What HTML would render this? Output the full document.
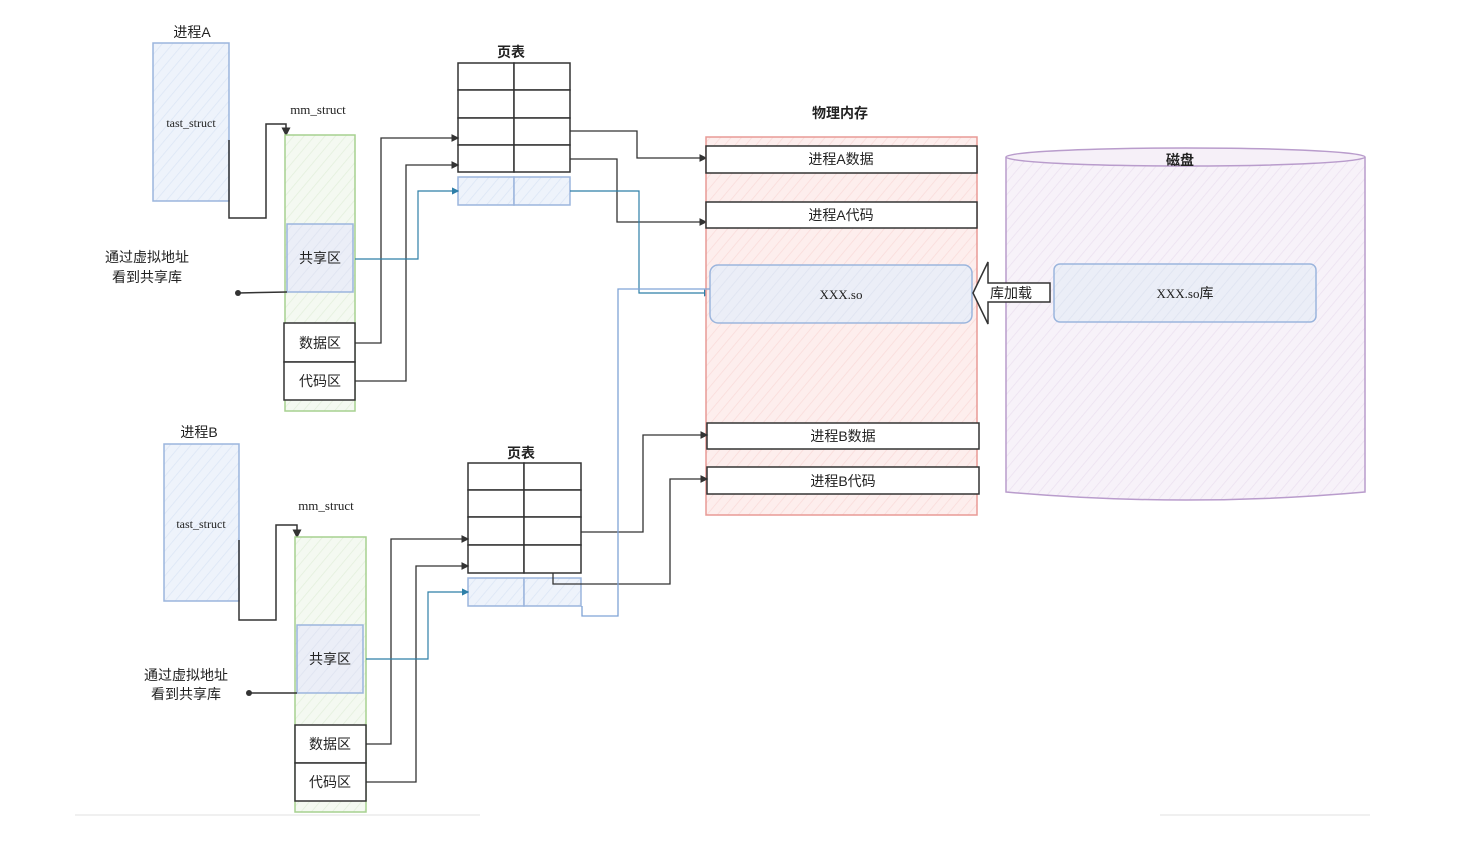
<!DOCTYPE html>
<html><head><meta charset="utf-8"><style>
html,body{margin:0;padding:0;background:#fff}
svg{display:block}
text{font-family:"Liberation Serif","Noto Sans CJK SC",serif;fill:#222}
.cj{font-family:"Liberation Sans","Noto Sans CJK SC",sans-serif}
.b{font-weight:bold}
</style></head><body>
<svg width="1477" height="866" viewBox="0 0 1477 866" xmlns="http://www.w3.org/2000/svg">
<defs>
<pattern id="hb" width="8" height="8" patternUnits="userSpaceOnUse" patternTransform="rotate(40)"><rect width="8" height="8" fill="#eef3fb"/><line x1="0" y1="0" x2="0" y2="8" stroke="#dbe5f5" stroke-width="1.5"/></pattern>
<pattern id="hg" width="8" height="8" patternUnits="userSpaceOnUse" patternTransform="rotate(40)"><rect width="8" height="8" fill="#f4f9f1"/><line x1="0" y1="0" x2="0" y2="8" stroke="#e2efdb" stroke-width="1.5"/></pattern>
<pattern id="hr" width="8" height="8" patternUnits="userSpaceOnUse" patternTransform="rotate(40)"><rect width="8" height="8" fill="#fdeeed"/><line x1="0" y1="0" x2="0" y2="8" stroke="#f9dbd9" stroke-width="1.5"/></pattern>
<pattern id="hp" width="8" height="8" patternUnits="userSpaceOnUse" patternTransform="rotate(40)"><rect width="8" height="8" fill="#f7f2f9"/><line x1="0" y1="0" x2="0" y2="8" stroke="#ebe0f0" stroke-width="1.5"/></pattern>
<pattern id="hs" width="8" height="8" patternUnits="userSpaceOnUse" patternTransform="rotate(40)"><rect width="8" height="8" fill="#ebeef7"/><line x1="0" y1="0" x2="0" y2="8" stroke="#dde2f0" stroke-width="1.5"/></pattern>
<marker id="ar" markerWidth="6" markerHeight="6" refX="5" refY="3" orient="auto"><path d="M0,0 L6,3 L0,6z" fill="#333"/></marker>
<marker id="ab" markerWidth="6" markerHeight="6" refX="5" refY="3" orient="auto"><path d="M0,0 L6,3 L0,6z" fill="#2e7fa8"/></marker>
<marker id="dt" markerWidth="6" markerHeight="6" refX="3" refY="3"><circle cx="3" cy="3" r="2" fill="#333"/></marker>
</defs>

<!-- Process A -->
<text x="192" y="37" text-anchor="middle" class="cj" font-size="14">进程A</text>
<rect x="153" y="43" width="76" height="158" fill="url(#hb)" stroke="#9bb5dd" stroke-width="1.5"/>
<text x="191" y="127" text-anchor="middle" font-size="12">tast_struct</text>
<polyline points="229,140 229,218 266,218 266,124 286,124 286,135" fill="none" stroke="#333" stroke-width="1.5" marker-end="url(#ar)"/>
<text x="318" y="114" text-anchor="middle" font-size="13">mm_struct</text>
<rect x="285" y="135" width="70" height="276" fill="url(#hg)" stroke="#a6d18f" stroke-width="1.5"/>
<rect x="287" y="224" width="66" height="68" fill="url(#hs)" stroke="#9bb5dd" stroke-width="1.5"/>
<text x="320" y="263" text-anchor="middle" class="cj" font-size="14">共享区</text>
<rect x="284" y="323" width="71" height="39" fill="#fff" stroke="#333" stroke-width="1.5"/>
<text x="320" y="348" text-anchor="middle" class="cj" font-size="14">数据区</text>
<rect x="284" y="362" width="71" height="38" fill="#fff" stroke="#333" stroke-width="1.5"/>
<text x="320" y="386" text-anchor="middle" class="cj" font-size="14">代码区</text>
<text x="147" y="262" text-anchor="middle" class="cj" font-size="14">通过虚拟地址</text>
<text x="147" y="282" text-anchor="middle" class="cj" font-size="14">看到共享库</text>
<line x1="287" y1="292" x2="238" y2="293" stroke="#333" stroke-width="1.5" marker-end="url(#dt)"/>

<!-- Page table A -->
<text x="511" y="57" text-anchor="middle" class="cj b" font-size="14">页表</text>
<g fill="#fff" stroke="#333" stroke-width="1.5">
<rect x="458" y="63" width="56" height="27"/><rect x="514" y="63" width="56" height="27"/>
<rect x="458" y="90" width="56" height="28"/><rect x="514" y="90" width="56" height="28"/>
<rect x="458" y="118" width="56" height="27"/><rect x="514" y="118" width="56" height="27"/>
<rect x="458" y="145" width="56" height="27"/><rect x="514" y="145" width="56" height="27"/>
</g>
<g fill="url(#hb)" stroke="#9bb5dd" stroke-width="1.5">
<rect x="458" y="177" width="56" height="28"/><rect x="514" y="177" width="56" height="28"/>
</g>
<polyline points="355,343 381,343 381,138 458,138" fill="none" stroke="#333" stroke-width="1.3" marker-end="url(#ar)"/>
<polyline points="355,381 406,381 406,165 458,165" fill="none" stroke="#333" stroke-width="1.3" marker-end="url(#ar)"/>
<polyline points="355,259 418,259 418,191 458,191" fill="none" stroke="#2e7fa8" stroke-width="1.2" marker-end="url(#ab)"/>
<polyline points="570,131 637,131 637,158 706,158" fill="none" stroke="#333" stroke-width="1.3" marker-end="url(#ar)"/>
<polyline points="570,159 617,159 617,222 706,222" fill="none" stroke="#333" stroke-width="1.3" marker-end="url(#ar)"/>
<polyline points="570,191 639,191 639,293 710,293" fill="none" stroke="#2e7fa8" stroke-width="1.2" marker-end="url(#ab)"/>

<!-- Physical memory -->
<text x="840" y="118" text-anchor="middle" class="cj b" font-size="14">物理内存</text>
<rect x="706" y="137" width="271" height="378" fill="url(#hr)" stroke="#e89a95" stroke-width="1.5"/>
<rect x="706" y="146" width="271" height="27" fill="#fff" stroke="#333" stroke-width="1.5"/>
<text x="841" y="164" text-anchor="middle" class="cj" font-size="14">进程A数据</text>
<rect x="706" y="202" width="271" height="26" fill="#fff" stroke="#333" stroke-width="1.5"/>
<text x="841" y="220" text-anchor="middle" class="cj" font-size="14">进程A代码</text>
<rect x="710" y="265" width="262" height="58" rx="8" fill="url(#hs)" stroke="#9bb5dd" stroke-width="1.5"/>
<text x="841" y="299" text-anchor="middle" font-size="13">XXX.so</text>
<rect x="707" y="423" width="272" height="26" fill="#fff" stroke="#333" stroke-width="1.5"/>
<text x="843" y="441" text-anchor="middle" class="cj" font-size="14">进程B数据</text>
<rect x="707" y="467" width="272" height="27" fill="#fff" stroke="#333" stroke-width="1.5"/>
<text x="843" y="486" text-anchor="middle" class="cj" font-size="14">进程B代码</text>

<!-- Disk -->
<path d="M1006,157 L1006,492 Q1186,508 1365,492 L1365,157" fill="url(#hp)" stroke="#b99ccc" stroke-width="1.5"/>
<ellipse cx="1185.5" cy="157" rx="179.5" ry="9" fill="#f6f0f8" stroke="#b99ccc" stroke-width="1.5"/>
<text x="1180" y="165" text-anchor="middle" class="cj b" font-size="14">磁盘</text>
<rect x="1054" y="264" width="262" height="58" rx="6" fill="url(#hs)" stroke="#9bb5dd" stroke-width="1.5"/>
<text x="1185" y="298" text-anchor="middle" font-size="13">XXX.so<tspan class="cj" font-size="14">库</tspan></text>
<path d="M973,293 L988,262 L988,283 L1050,283 L1050,302 L988,302 L988,324 Z" fill="#fff" stroke="#333" stroke-width="1.5"/>
<text x="1011" y="298" text-anchor="middle" class="cj" font-size="14">库加载</text>

<!-- Process B -->
<text x="199" y="437" text-anchor="middle" class="cj" font-size="14">进程B</text>
<rect x="164" y="444" width="75" height="157" fill="url(#hb)" stroke="#9bb5dd" stroke-width="1.5"/>
<text x="201" y="528" text-anchor="middle" font-size="12">tast_struct</text>
<polyline points="239,540 239,620 276,620 276,525 297,525 297,537" fill="none" stroke="#333" stroke-width="1.5" marker-end="url(#ar)"/>
<text x="326" y="510" text-anchor="middle" font-size="13">mm_struct</text>
<rect x="295" y="537" width="71" height="275" fill="url(#hg)" stroke="#a6d18f" stroke-width="1.5"/>
<rect x="297" y="625" width="66" height="68" fill="url(#hs)" stroke="#9bb5dd" stroke-width="1.5"/>
<text x="330" y="664" text-anchor="middle" class="cj" font-size="14">共享区</text>
<rect x="295" y="725" width="71" height="38" fill="#fff" stroke="#333" stroke-width="1.5"/>
<text x="330" y="749" text-anchor="middle" class="cj" font-size="14">数据区</text>
<rect x="295" y="763" width="71" height="38" fill="#fff" stroke="#333" stroke-width="1.5"/>
<text x="330" y="787" text-anchor="middle" class="cj" font-size="14">代码区</text>
<text x="186" y="680" text-anchor="middle" class="cj" font-size="14">通过虚拟地址</text>
<text x="186" y="699" text-anchor="middle" class="cj" font-size="14">看到共享库</text>
<line x1="297" y1="693" x2="249" y2="693" stroke="#333" stroke-width="1.5" marker-end="url(#dt)"/>

<!-- Page table B -->
<text x="521" y="458" text-anchor="middle" class="cj b" font-size="14">页表</text>
<g fill="#fff" stroke="#333" stroke-width="1.5">
<rect x="468" y="463" width="56" height="27"/><rect x="524" y="463" width="57" height="27"/>
<rect x="468" y="490" width="56" height="27"/><rect x="524" y="490" width="57" height="27"/>
<rect x="468" y="517" width="56" height="28"/><rect x="524" y="517" width="57" height="28"/>
<rect x="468" y="545" width="56" height="28"/><rect x="524" y="545" width="57" height="28"/>
</g>
<g fill="url(#hb)" stroke="#9bb5dd" stroke-width="1.5">
<rect x="468" y="578" width="56" height="28"/><rect x="524" y="578" width="57" height="28"/>
</g>
<polyline points="366,744 391,744 391,539 468,539" fill="none" stroke="#333" stroke-width="1.3" marker-end="url(#ar)"/>
<polyline points="366,782 416,782 416,566 468,566" fill="none" stroke="#333" stroke-width="1.3" marker-end="url(#ar)"/>
<polyline points="366,659 428,659 428,592 468,592" fill="none" stroke="#2e7fa8" stroke-width="1.2" marker-end="url(#ab)"/>
<polyline points="581,532 643,532 643,435 707,435" fill="none" stroke="#333" stroke-width="1.3" marker-end="url(#ar)"/>
<polyline points="553,573 553,584 670,584 670,479 707,479" fill="none" stroke="#333" stroke-width="1.3" marker-end="url(#ar)"/>
<polyline points="710,289 618,289 618,616 582,616 582,606" fill="none" stroke="#7fa3d6" stroke-width="1.3"/>

<line x1="75" y1="815" x2="480" y2="815" stroke="#f0f0f0" stroke-width="2"/>
<line x1="1160" y1="815" x2="1370" y2="815" stroke="#f0f0f0" stroke-width="2"/>
</svg>
</body></html>
